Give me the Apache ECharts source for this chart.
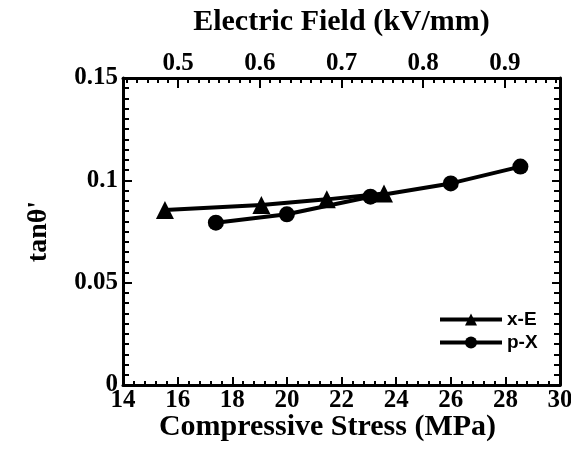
<!DOCTYPE html>
<html><head><meta charset="utf-8">
<script src="https://cdn.jsdelivr.net/npm/echarts@6/dist/echarts.min.js"></script>
<style>html,body{margin:0;padding:0;background:#fff}#c{width:571px;height:460px}</style>
</head><body><div id="c"></div>
<script>
// ---- data ----
const seriesNames = ['x-E', 'p-X'];
const xE_field = [0.484, 0.602, 0.682, 0.752];      // kV/mm (top axis)
const xE_tan   = [0.0855, 0.0879, 0.0907, 0.0936];
const pX_stress = [17.4, 20.0, 23.06, 26.0, 28.55]; // MPa (bottom axis)
const pX_tan    = [0.0793, 0.0834, 0.0920, 0.0985, 0.1067];
const stressRange = [14, 30];
const fieldRange = [0.4327, 0.9673];
const tanRange = [0, 0.15];
const fieldTickLabels = [0.5, 0.6, 0.7, 0.8, 0.9];
const fieldMinorStep = 0.0125;

const fieldMinorTicks = [];
for (let v = 0.5 - 5 * fieldMinorStep; v <= fieldRange[1]; v += fieldMinorStep) {
  if (v >= fieldRange[0]) fieldMinorTicks.push(+v.toFixed(4));
}

const serif = 'Liberation Serif';
const axisLineStyle = { color: '#000', width: 3 };
const labelStyle = { color: '#000', fontFamily: serif, fontWeight: 'bold', fontSize: 25 };
const gridBox = { left: 123, right: 11, top: 78, bottom: 75, containLabel: false, outerBoundsMode: 'none' };

const chart = echarts.init(document.getElementById('c'));
chart.setOption({
  animation: false,
  backgroundColor: '#fff',
  grid: [Object.assign({}, gridBox), Object.assign({}, gridBox)],
  legend: {
    orient: 'vertical', left: 433, top: 305,
    itemWidth: 62, itemHeight: 15, itemGap: 4,
    data: seriesNames,
    lineStyle: { width: 4 },
    textStyle: { color: '#000', fontFamily: 'Liberation Sans', fontWeight: 'bold', fontSize: 19 }
  },
  xAxis: [
    {
      gridIndex: 0, type: 'value', position: 'bottom', min: stressRange[0], max: stressRange[1], interval: 2,
      name: 'Compressive Stress (MPa)', nameLocation: 'middle', nameGap: 27, nameMoveOverlap: false,
      nameTextStyle: { color: '#000', fontFamily: serif, fontWeight: 'bold', fontSize: 30, padding: [0, 28, 0, 0] },
      axisLine: { onZero: false, lineStyle: axisLineStyle },
      axisTick: { inside: true, length: 8, lineStyle: { color: '#000', width: 2 } },
      minorTick: { show: true, splitNumber: 5, length: 4, lineStyle: { color: '#000', width: 2 } },
      axisLabel: Object.assign({ margin: 3 }, labelStyle),
      splitLine: { show: false }
    },
    {
      gridIndex: 0, type: 'value', position: 'top', min: fieldRange[0], max: fieldRange[1],
      name: 'Electric Field (kV/mm)', nameLocation: 'middle', nameGap: 41,
      nameTextStyle: { color: '#000', fontFamily: serif, fontWeight: 'bold', fontSize: 30 },
      axisLine: { onZero: false, lineStyle: axisLineStyle },
      axisTick: { inside: true, length: 10, customValues: fieldTickLabels, lineStyle: { color: '#000', width: 2 } },
      axisLabel: Object.assign({ margin: 2, customValues: fieldTickLabels }, labelStyle),
      splitLine: { show: false }
    },
    {
      gridIndex: 1, type: 'value', position: 'top', min: fieldRange[0], max: fieldRange[1],
      axisLine: { show: false, onZero: false },
      axisTick: { inside: true, length: 5, customValues: fieldMinorTicks, lineStyle: { color: '#000', width: 2 } },
      axisLabel: { show: false },
      splitLine: { show: false }
    }
  ],
  yAxis: [
    {
      gridIndex: 0, type: 'value', position: 'left', min: tanRange[0], max: tanRange[1], interval: 0.05,
      name: "tanθ'", nameLocation: 'middle', nameGap: 70,
      nameTextStyle: { color: '#000', fontFamily: serif, fontWeight: 'bold', fontSize: 28 },
      axisLine: { onZero: false, lineStyle: axisLineStyle },
      axisTick: { inside: true, length: 9, lineStyle: { color: '#000', width: 2 } },
      minorTick: { show: true, splitNumber: 10, length: 6, lineStyle: { color: '#000', width: 2 } },
      axisLabel: Object.assign({ margin: 5 }, labelStyle),
      splitLine: { show: false }
    },
    {
      gridIndex: 0, type: 'value', position: 'right', min: tanRange[0], max: tanRange[1], interval: 0.05,
      axisLine: { onZero: false, lineStyle: axisLineStyle },
      axisTick: { inside: true, length: 8, lineStyle: { color: '#000', width: 2 } },
      minorTick: { show: true, splitNumber: 10, length: 6, lineStyle: { color: '#000', width: 2 } },
      axisLabel: { show: false },
      splitLine: { show: false }
    },
    {
      gridIndex: 1, type: 'value', min: tanRange[0], max: tanRange[1], show: false
    }
  ],
  series: [
    {
      name: seriesNames[0], type: 'line', xAxisIndex: 1, yAxisIndex: 0,
      data: xE_field.map((v, i) => [v, xE_tan[i]]),
      symbol: 'triangle', symbolSize: 18,
      lineStyle: { color: '#000', width: 4 }, itemStyle: { color: '#000' }
    },
    {
      name: seriesNames[1], type: 'line', xAxisIndex: 0, yAxisIndex: 0,
      data: pX_stress.map((v, i) => [v, pX_tan[i]]),
      symbol: 'circle', symbolSize: 16,
      lineStyle: { color: '#000', width: 4 }, itemStyle: { color: '#000' }
    }
  ]
});
</script>
</body></html>
